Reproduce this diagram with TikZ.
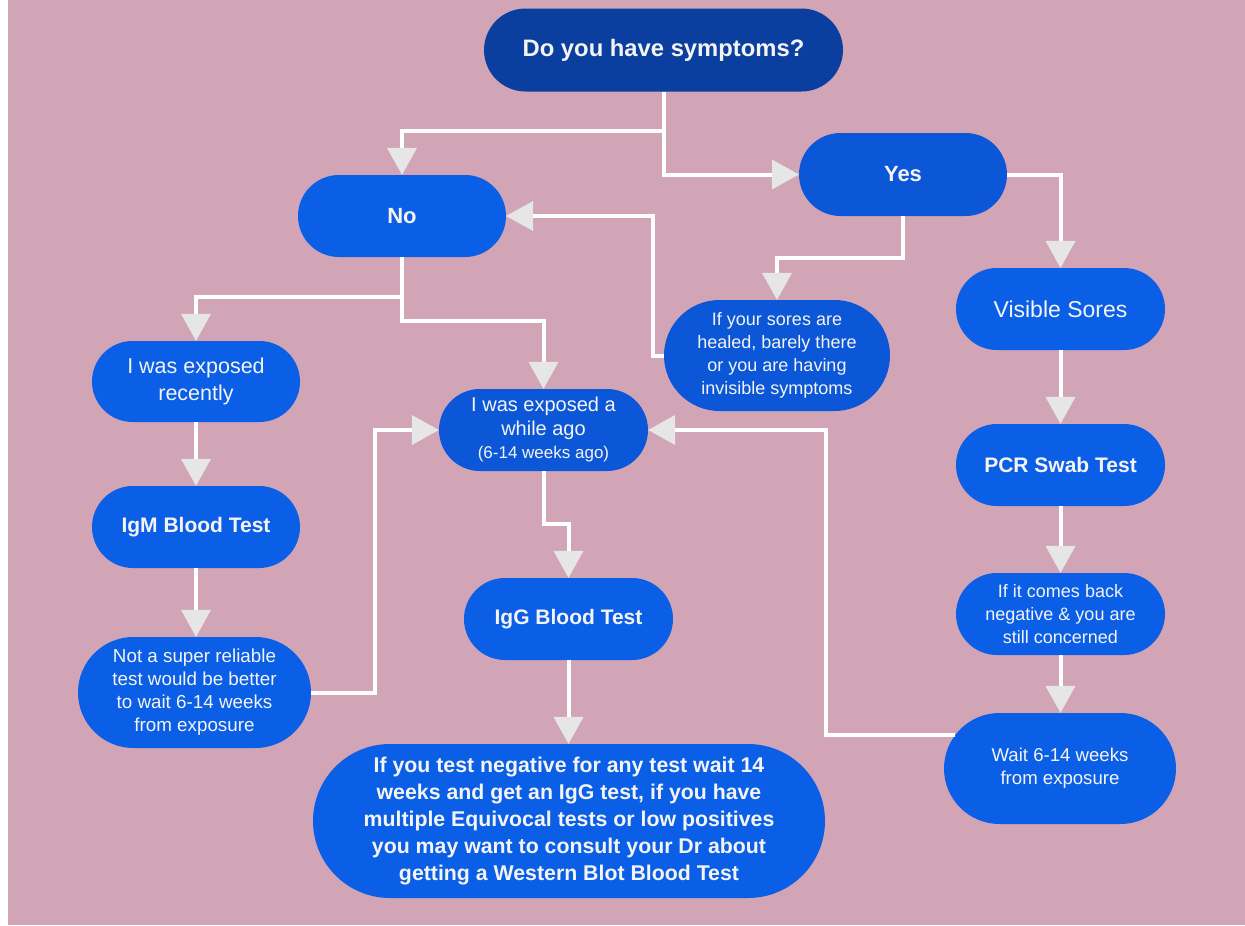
\documentclass[tikz,border=0pt]{standalone}
\usepackage{fontspec}
\setmainfont{Liberation Sans}
\usetikzlibrary{arrows.meta,shapes.misc}
\definecolor{bgpink}{HTML}{D1A4B6}
\definecolor{boxblue}{HTML}{0A5FE6}
\definecolor{boxmid}{HTML}{0B57D8}
\definecolor{boxdark}{HTML}{0B3F9F}
\definecolor{tipgrey}{HTML}{E6E6E6}
\definecolor{txtwhite}{HTML}{F4F4F4}
\begin{document}
\begin{tikzpicture}[x=1pt,y=-1pt,
  box/.style={rounded rectangle, fill=boxblue, text=txtwhite, inner sep=0pt, align=center,
    minimum width=209, minimum height=82, font=\fontsize{18}{23}\selectfont},
  bbox/.style={box, font=\bfseries\fontsize{21}{27}\selectfont},
  conn/.style={draw=white, line width=4pt, line join=miter,
    -{Triangle[width=30pt,length=27pt,color=tipgrey,line width=0.5pt]}},
]
\useasboundingbox (0,0) rectangle (1245,926);
\fill[white] (0,0) rectangle (1245,926);
\fill[bgpink] (8,0) rectangle (1245,925);

% nodes
\node[bbox, fill=boxdark, minimum width=359, minimum height=83,
      font=\bfseries\fontsize{23.8}{27}\selectfont] (q) at (663.5,50) {Do you have symptoms?};
\node[bbox, fill=boxmid, minimum width=208, minimum height=83,
      font=\bfseries\fontsize{22}{27}\selectfont] (yes) at (903,174.5) {Yes};
\node[bbox, minimum width=208, font=\bfseries\fontsize{22}{27}\selectfont] (no) at (402,216) {No};
\node[box, font=\fontsize{23}{27}\selectfont] (vis) at (1060.5,309) {Visible Sores};
\node[box, fill=boxmid, minimum width=226, minimum height=111] (sores) at (777,355.5)
  {If your sores are\\healed, barely there\\or you are having\\invisible symptoms};
\node[box, minimum width=208, minimum height=81, font=\fontsize{21.5}{27}\selectfont] (rec) at (196,381.5)
  {I was exposed\\recently};
\node[box, fill=boxmid, font=\fontsize{20}{23.5}\selectfont] (ago) at (543.5,430)
  {I was exposed a\\while ago\\{\fontsize{17}{20}\selectfont (6-14 weeks ago)}};
\node[bbox] (pcr) at (1060.5,465) {PCR Swab Test};
\node[bbox, minimum width=208] (igm) at (196,527) {IgM Blood Test};
\node[bbox] (igg) at (568.5,619) {IgG Blood Test};
\node[box] (back) at (1060.5,614) {If it comes back\\negative \& you are\\still concerned};
\node[box, minimum width=233, minimum height=111, font=\fontsize{18.8}{23}\selectfont] (notsuper) at (194.5,692.5)
  {Not a super reliable\\test would be better\\to wait 6-14 weeks\\from exposure};
\node[box, minimum width=232, minimum height=111, font=\fontsize{18.6}{23}\selectfont] (wait) at (1060,768.5)
  {Wait 6-14 weeks\\from exposure};
\node[bbox, minimum width=512, minimum height=154, font=\bfseries\fontsize{21.3}{27.2}\selectfont] (big) at (569,821)
  {If you test negative for any test wait 14\\weeks and get an IgG test, if you have\\multiple Equivocal tests or low positives\\you may want to consult your Dr about\\getting a Western Blot Blood Test};

% connectors
\draw[conn] (q.south) -- ++(0,39) -| (no.north);
\draw[conn] (q.south) |- (yes.west);
\draw[conn] (yes.south) -- ++(0,42) -| (sores.north);
\draw[conn] (yes.east) -| (vis.north);
\draw[conn] (sores.west) -- ++(-11,0) |- (no.east);
\draw[conn] (no.south) -- ++(0,40) -| (rec.north);
\draw[conn] (no.south) -- ++(0,64) -| (ago.north);
\draw[conn] (rec.south) -- (igm.north);
\draw[conn] (igm.south) -- (igm.south |- notsuper.north);
\draw[conn] (notsuper.east) -- ++(64,0) |- (ago.west);
\draw[conn] (ago.south) -- ++(0,53) -| (igg.north);
\draw[conn] (igg.south) -- (igg.south |- big.north);
\draw[conn] (vis.south) -- (pcr.north);
\draw[conn] (pcr.south) -- (back.north);
\draw[conn] (back.south) -- (back.south |- wait.north);
\draw[conn] (wait.162) -- ++(-129,0) |- (ago.east);
\end{tikzpicture}
\end{document}
